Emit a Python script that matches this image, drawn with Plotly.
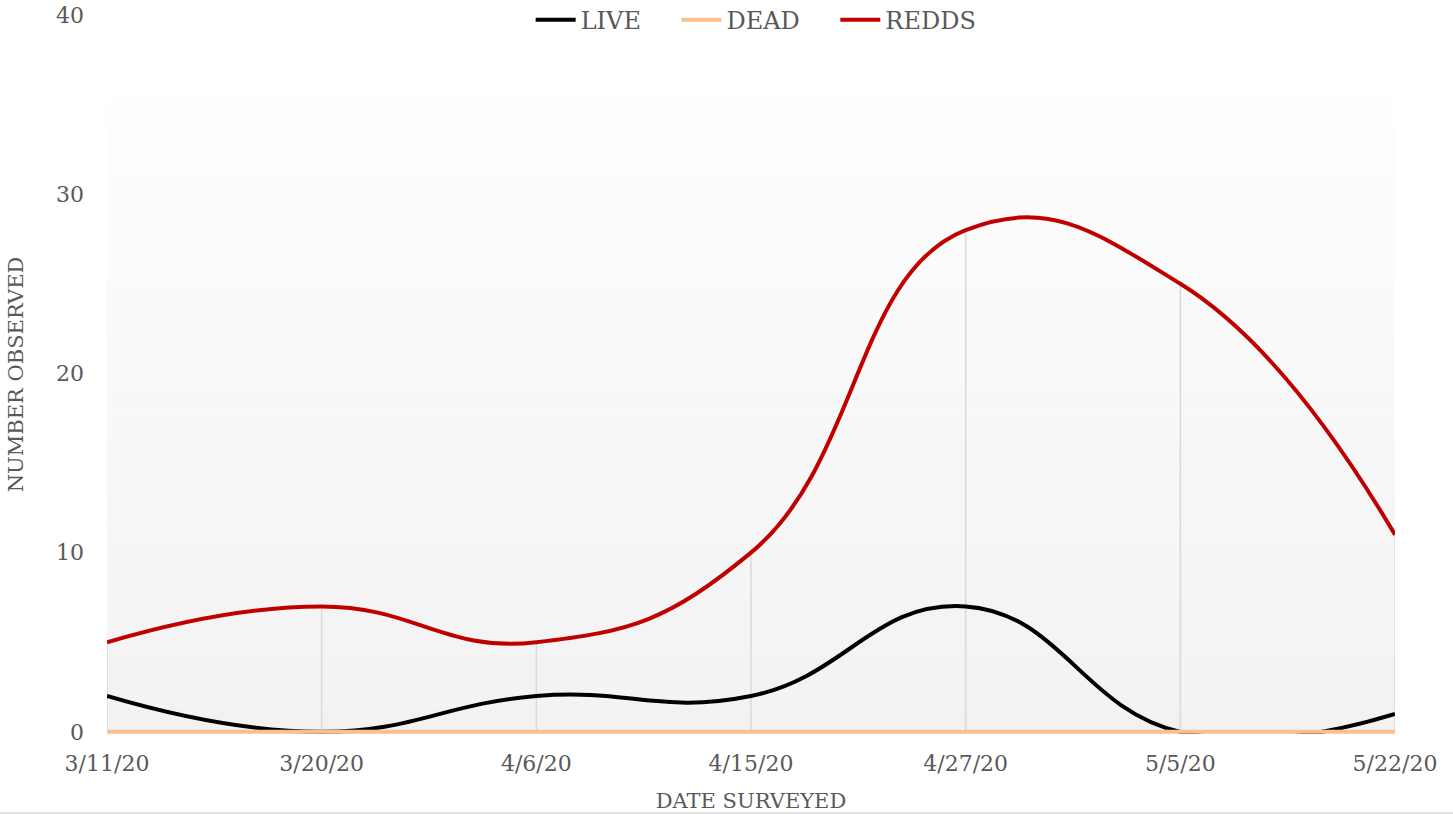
import plotly.graph_objects as go

dates = ["3/11/20", "3/20/20", "4/6/20", "4/15/20", "4/27/20", "5/5/20", "5/22/20"]
live = [2, 0, 2, 2, 7, 0, 1]
dead = [0, 0, 0, 0, 0, 0, 0]
redds = [5, 7, 5, 10, 28, 25, 11]

FONT = "DejaVu Serif"
TXT = "#595959"
NB = "\u00a0"

fig = go.Figure()

# drop lines (Excel style) from max value to axis
dx, dy = [], []
for i, d in enumerate(dates):
    m = max(live[i], dead[i], redds[i])
    dx += [d, d, None]
    dy += [0, m, None]
fig.add_trace(go.Scatter(x=dx, y=dy, mode="lines", line=dict(color="#d9d9d9", width=1.5),
                         showlegend=False, hoverinfo="skip"))

fig.add_trace(go.Scatter(x=dates, y=live, name="LIVE" + NB * 4, mode="lines",
                         line=dict(color="#000000", width=4, shape="spline", smoothing=1.3)))
fig.add_trace(go.Scatter(x=dates, y=dead, name="DEAD" + NB * 4, mode="lines",
                         line=dict(color="#f9bf8f", width=4, shape="spline", smoothing=1.3)))
fig.add_trace(go.Scatter(x=dates, y=redds, name="REDDS", mode="lines",
                         line=dict(color="#c00000", width=4, shape="spline", smoothing=1.3)))

# gradient background bands
shapes = []
n = 24
top = 35.4
for k in range(n):
    y0 = top * k / n
    y1 = top * (k + 1) / n
    t = k / (n - 1)
    c = int(round(242 + (254 - 242) * t))
    shapes.append(dict(type="rect", xref="x", yref="y", x0=0, x1=6, y0=y0, y1=y1,
                       fillcolor=f"rgb({c},{c},{c})", line=dict(width=0), layer="below"))
shapes.append(dict(type="line", xref="paper", yref="paper", x0=-1, x1=2,
                   y0=-0.1099, y1=-0.1099, line=dict(color="#d9d9d9", width=1.5)))

fig.update_layout(
    width=1453, height=814,
    margin=dict(l=107, r=58, t=15, b=80, autoexpand=False),
    paper_bgcolor="white", plot_bgcolor="white",
    font=dict(family=FONT, color=TXT, size=22),
    shapes=shapes,
    legend=dict(orientation="h", x=0.504, xanchor="center", y=0.993, yanchor="middle",
                font=dict(size=24, color=TXT), bgcolor="rgba(0,0,0,0)", itemwidth=40,
                tracegroupgap=0),
    xaxis=dict(type="category", range=[0, 6], showgrid=False, showline=False, zeroline=False,
               automargin=False, ticks="", tickfont=dict(size=22, color=TXT), ticklabelstandoff=14,
               ticklabeloverflow="allow",
               title=dict(text="DATE SURVEYED", font=dict(size=21, color=TXT), standoff=18)),
    yaxis=dict(range=[-0.12, 40], tickvals=[0, 10, 20, 30, 40], showgrid=False, showline=False,
               zeroline=False, automargin=False, ticks="", tickfont=dict(size=22, color=TXT),
               ticklabelstandoff=22, ticklabeloverflow="allow",
               title=dict(text="NUMBER OBSERVED", font=dict(size=21, color=TXT), standoff=26)),
)

fig.write_html("out.html", config={"displayModeBar": False},
               post_script="document.body.style.margin='0';")
